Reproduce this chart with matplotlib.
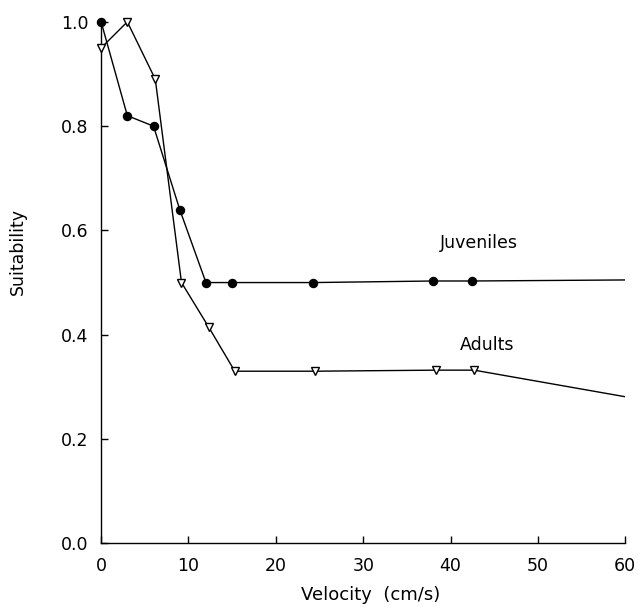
import numpy as np
import matplotlib.pyplot as plt

# suitability curves
juv_vel = [0, 3, 6, 9, 12, 15, 24.3, 38, 42.5]
juv_suit = [1.0, 0.82, 0.80, 0.64, 0.50, 0.50, 0.50, 0.503, 0.503]
juv_end = [60, 0.505]

adu_vel = [0, 3, 6.2, 9.2, 12.3, 15.3, 24.5, 38.3, 42.7]
adu_suit = [0.95, 1.0, 0.89, 0.50, 0.415, 0.33, 0.33, 0.332, 0.332]
adu_end = [60, 0.281]

fig = plt.figure(figsize=(6.4, 6.07), dpi=100)
ax = fig.add_axes([0.158, 0.105, 0.819, 0.859])

ax.plot(juv_vel + [juv_end[0]], juv_suit + [juv_end[1]], color='black', lw=1.0)
ax.plot(juv_vel, juv_suit, 'o', color='black', ms=5.8, clip_on=False, zorder=3)

ax.plot(adu_vel + [adu_end[0]], adu_suit + [adu_end[1]], color='black', lw=1.0)
ax.plot(adu_vel, adu_suit, 'v', mfc='white', mec='black', mew=1.0, ms=5.5,
        clip_on=False, zorder=3)

ax.text(43.2, 0.576, 'Juveniles', ha='center', va='center', fontsize=12.5)
ax.text(44.2, 0.38, 'Adults', ha='center', va='center', fontsize=12.5)

ax.set_xlim(0, 60)
ax.set_ylim(0, 1.0)
ax.set_xticks(np.arange(0, 61, 10))
ax.set_yticks(np.arange(0, 1.01, 0.2))
ax.set_yticklabels(['0.0', '0.2', '0.4', '0.6', '0.8', '1.0'])
ax.tick_params(direction='in', length=5, width=1, labelsize=12.5, pad=9)
ax.tick_params(axis='x', pad=10)

for s in ['top', 'right']:
    ax.spines[s].set_visible(False)
for s in ['left', 'bottom']:
    ax.spines[s].set_linewidth(1.0)

ax.set_xlabel('Velocity  (cm/s)', fontsize=13)
ax.xaxis.set_label_coords(0.515, -0.082)
ax.set_ylabel('Suitability', fontsize=12.5)
ax.yaxis.set_label_coords(-0.141, 0.56)

fig.savefig('out.png', dpi=100)
